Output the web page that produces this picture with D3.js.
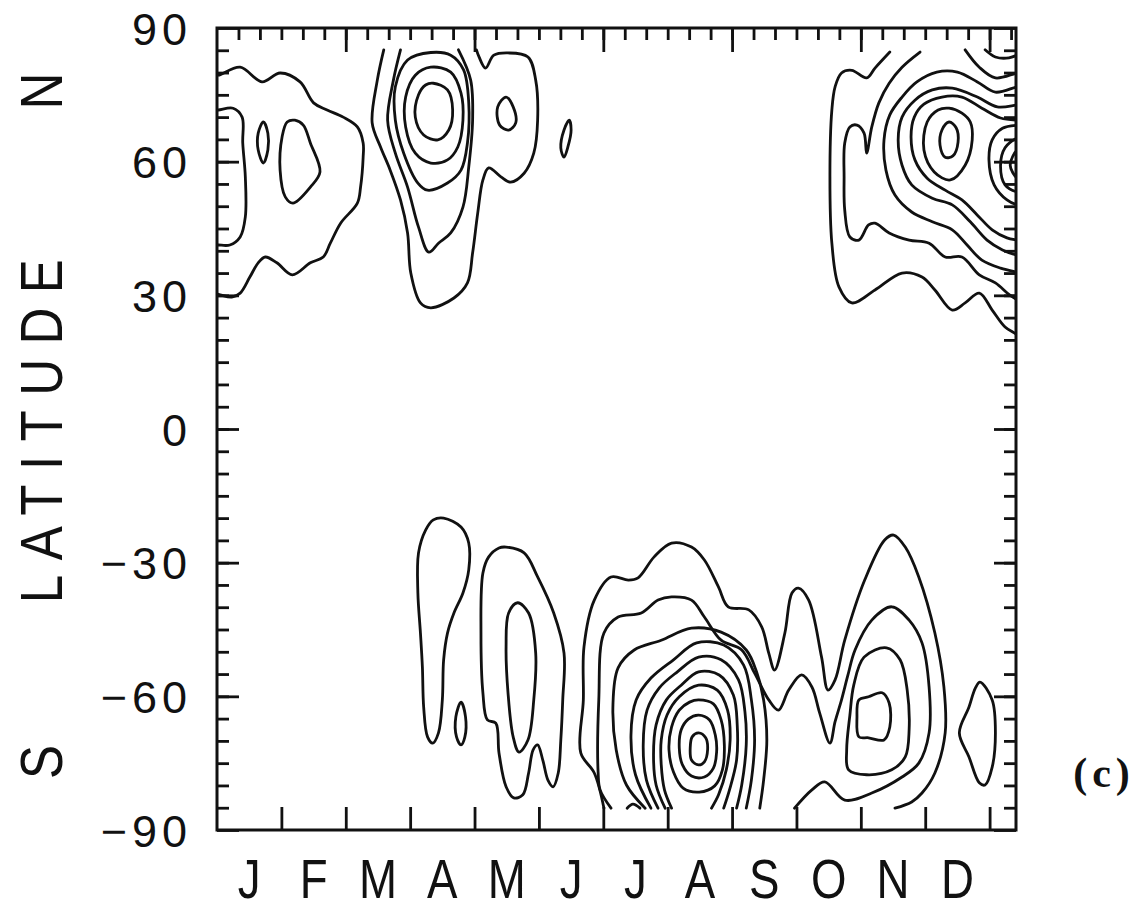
<!DOCTYPE html>
<html>
<head>
<meta charset="utf-8">
<script src="https://cdn.jsdelivr.net/npm/d3@7"></script>
<style>
  body { margin: 0; background: #fff; }
  text { font-family: "Liberation Sans", Arial, sans-serif; fill: #111; }
</style>
</head>
<body>
<svg id="chart" width="1143" height="911"></svg>
<script>
// axis labels
const monthLabels = ["J","F","M","A","M","J","J","A","S","O","N","D"];
const latTicks = [90, 60, 30, 0, -30, -60, -90];
const topMajor = [2, 4, 6, 8, 10, 12];

// contour lines, as [month, latitude] points
// (month 0 = start of January); ring = closed contour
const janNorth = [
  {ring: false, pts: [[-0.05,79.4],[0.02,79.4],[0.36,81.2],[0.70,77.9],[0.98,79.9],[1.29,77.9],[1.5,73.2],[1.71,71.6],[1.96,70.0],[2.18,67.8],[2.27,64.2],[2.27,61.0],[2.23,54.3],[2.18,50.7],[1.92,46.2],[1.76,41.7],[1.65,38.6],[1.45,37.3],[1.17,34.6],[0.93,37.3],[0.75,38.6],[0.64,37.3],[0.51,34.1],[0.36,30.5],[0.23,29.6],[0.05,30.1],[-0.05,30.5]]},
  {ring: false, pts: [[-0.05,71.6],[0.02,71.6],[0.25,72.0],[0.39,70.0],[0.4,64.2],[0.44,56.6],[0.44,47.6],[0.36,43.1],[0.2,41.3],[0.02,41.3],[-0.05,41.3]]},
  {ring: true, pts: [[0.72,68.9],[0.79,66.4],[0.79,62.6],[0.72,59.7],[0.64,62.6],[0.64,66.4]]},
  {ring: true, pts: [[1.21,69.3],[1.34,68.2],[1.45,64.2],[1.6,57.7],[1.45,54.3],[1.18,50.7],[1.06,52.1],[0.98,58.1],[1.01,65.5],[1.09,68.9]]}
];

const aprNorth = [
  {ring: false, pts: [[2.59,85.1],[2.49,78.3],[2.41,68.7],[2.54,63.3],[2.69,58.1],[2.85,51.4],[2.96,44.0],[3.01,35.0],[3.16,28.3],[3.32,27.2],[3.68,29.4],[3.89,32.8],[3.97,39.5],[4.05,48.5],[4.13,55.9],[4.22,58.6],[4.41,56.6],[4.56,55.4],[4.77,57.4],[4.92,61.9],[4.98,69.3],[4.95,78.3],[4.83,83.5],[4.52,84.4],[4.3,83.9],[4.17,81.0],[4.07,83.5],[4.03,85.1]]},
  {ring: false, pts: [[2.85,85.1],[2.74,78.3],[2.65,69.3],[2.77,61.9],[2.96,54.3],[3.13,45.3],[3.29,39.7],[3.44,41.7],[3.63,44.0],[3.82,49.8],[3.91,58.8],[3.97,69.3],[3.94,78.3],[3.75,85.1]]},
  {ring: true, pts: [[3.32,84.5],[3.63,83.9],[3.83,80.6],[3.91,73.2],[3.89,64.2],[3.79,58.1],[3.58,55.2],[3.27,53.6],[3.12,55.2],[2.9,61.9],[2.77,69.3],[2.77,76.8],[2.96,82.8]]},
  {ring: true, pts: [[3.32,81.2],[3.63,80.1],[3.79,75.4],[3.82,69.3],[3.74,63.3],[3.58,60.4],[3.32,59.7],[3.08,61.9],[2.93,67.8],[2.93,74.5],[3.08,79.4]]},
  {ring: true, pts: [[3.36,77.6],[3.58,76.1],[3.66,71.6],[3.6,67.1],[3.43,64.9],[3.21,66.0],[3.08,70.0],[3.13,75.0],[3.24,77.2]]},
  {ring: true, pts: [[4.49,74.5],[4.6,72.3],[4.64,68.7],[4.53,67.1],[4.39,68.2],[4.36,72.3]]},
  {ring: true, pts: [[5.47,69.3],[5.5,67.1],[5.45,63.3],[5.39,61.0],[5.34,63.1],[5.39,67.1]]}
];

const decNorth = [
  {ring: false, pts: [[10.45,84.6],[10.22,81.0],[10.09,78.8],[9.86,80.5],[9.7,79.9],[9.6,76.8],[9.55,71.6],[9.52,56.6],[9.55,41.7],[9.66,31.9],[9.86,28.3],[10.22,31.2],[10.64,35.0],[10.95,34.1],[11.15,31.2],[11.42,26.7],[11.62,28.3],[11.84,30.5],[12.04,26.7],[12.24,22.9],[12.43,21.1],[12.5,20.0]]},
  {ring: false, pts: [[10.92,84.6],[10.64,81.2],[10.44,77.6],[10.28,73.2],[10.17,67.8],[10.09,61.9],[10.05,66.4],[9.94,68.2],[9.83,67.8],[9.75,64.2],[9.74,56.6],[9.75,49.1],[9.83,43.1],[9.97,42.4],[10.12,45.8],[10.22,46.2],[10.44,44.0],[10.75,42.4],[11.06,41.7],[11.31,38.6],[11.57,38.6],[11.84,34.6],[12.09,32.8],[12.31,30.1],[12.43,29.0],[12.5,28.5]]},
  {ring: false, pts: [[12.5,76.8],[12.43,76.8],[12.09,75.6],[11.81,77.9],[11.5,80.1],[11.18,80.1],[10.87,77.9],[10.64,74.5],[10.45,70.5],[10.36,64.9],[10.39,58.1],[10.53,52.5],[10.79,48.7],[11.11,46.5],[11.42,44.7],[11.65,41.3],[11.88,37.9],[12.17,36.1],[12.43,35.2],[12.5,35.0]]},
  {ring: false, pts: [[12.5,72.7],[12.43,72.7],[12.12,72.3],[11.81,74.5],[11.42,76.5],[11.11,76.1],[10.84,73.8],[10.64,70.0],[10.58,64.9],[10.64,59.2],[10.79,54.8],[11.11,51.8],[11.42,50.3],[11.7,46.5],[11.96,42.4],[12.2,40.2],[12.43,39.0],[12.5,38.8]]},
  {ring: false, pts: [[12.5,69.3],[12.43,69.3],[12.17,69.8],[11.88,72.0],[11.57,74.5],[11.26,74.5],[10.98,72.9],[10.83,70.0],[10.78,65.5],[10.84,60.4],[11.03,56.3],[11.31,53.6],[11.57,51.4],[11.81,48.0],[12.04,44.7],[12.27,42.9],[12.43,42.4],[12.5,42.2]]},
  {ring: true, pts: [[11.37,72.0],[11.57,70.9],[11.7,68.9],[11.73,64.9],[11.62,59.2],[11.39,55.9],[11.14,57.7],[10.98,62.6],[11.03,68.9],[11.2,71.6]]},
  {ring: true, pts: [[11.37,68.9],[11.48,67.6],[11.51,64.4],[11.43,61.3],[11.31,61.0],[11.23,63.7],[11.26,67.1]]},
  {ring: false, pts: [[11.62,85.1],[11.84,81.2],[12.09,78.8],[12.43,79.9],[12.5,79.9]]},
  {ring: false, pts: [[11.93,85.1],[12.09,83.5],[12.3,83.3],[12.5,84.4]]},
  {ring: false, pts: [[12.5,68.2],[12.43,68.2],[12.2,67.5],[12.04,64.9],[11.99,60.4],[12.07,54.8],[12.27,51.4],[12.43,50.3],[12.5,50.3]]},
  {ring: false, pts: [[12.5,65.5],[12.43,65.3],[12.24,63.1],[12.17,59.2],[12.24,54.8],[12.43,53.2],[12.5,53.2]]},
  {ring: false, pts: [[12.5,62.6],[12.43,62.6],[12.32,59.2],[12.43,56.3],[12.5,56.3]]}
];

const aprSouth = [
  {ring: true, pts: [[3.52,-20.0],[3.79,-22.0],[3.91,-25.6],[3.91,-31.6],[3.82,-36.8],[3.68,-41.3],[3.58,-45.8],[3.52,-51.8],[3.5,-60.8],[3.44,-68.2],[3.35,-70.5],[3.27,-69.1],[3.21,-62.4],[3.19,-53.4],[3.16,-45.8],[3.12,-36.8],[3.13,-27.8],[3.24,-22.7],[3.36,-20.4]]},
  {ring: true, pts: [[3.79,-61.3],[3.86,-64.6],[3.85,-69.1],[3.79,-70.9],[3.72,-69.1],[3.71,-64.6]]}
];

const maySouth = [
  {ring: true, pts: [[4.49,-26.5],[4.77,-27.8],[4.98,-33.2],[5.23,-41.3],[5.39,-50.3],[5.37,-60.8],[5.34,-69.8],[5.3,-77.2],[5.22,-80.3],[5.14,-78.8],[5.06,-74.3],[4.98,-70.9],[4.91,-72.0],[4.84,-77.2],[4.75,-82.1],[4.61,-82.8],[4.49,-80.3],[4.38,-72.7],[4.33,-66.0],[4.2,-65.3],[4.13,-59.2],[4.1,-45.8],[4.13,-32.3],[4.22,-28.7],[4.38,-26.7]]},
  {ring: true, pts: [[4.67,-39.0],[4.84,-41.3],[4.95,-50.3],[4.92,-60.8],[4.83,-69.8],[4.69,-72.5],[4.6,-69.1],[4.52,-59.2],[4.49,-48.9],[4.53,-41.3]]}
];

const augSouth = [
  {ring: false, pts: [[6.01,-85.1],[5.86,-77.2],[5.65,-72.7],[5.69,-60.8],[5.7,-48.9],[5.86,-38.4],[6.12,-33.2],[6.39,-33.9],[6.54,-33.4],[6.79,-28.7],[7.06,-25.6],[7.37,-26.5],[7.57,-29.4],[7.79,-35.5],[7.94,-39.9],[8.26,-40.6],[8.46,-44.4],[8.57,-50.3],[8.66,-54.1],[8.82,-45.8],[8.93,-36.8],[9.03,-35.7],[9.19,-38.4],[9.39,-51.2],[9.49,-58.6],[9.6,-56.3],[9.75,-47.4],[10.06,-33.9],[10.37,-24.9],[10.51,-23.8],[10.69,-26.5],[10.9,-33.2],[11.15,-45.8],[11.29,-57.9],[11.31,-68.2],[11.15,-77.2],[10.95,-81.7],[10.79,-83.7],[10.53,-85.1]]},
  {ring: false, pts: [[6.12,-85.1],[5.95,-81.0],[5.92,-77.2],[5.93,-60.8],[6.01,-45.8],[6.23,-42.2],[6.59,-41.3],[6.85,-38.4],[7.06,-37.7],[7.37,-38.4],[7.57,-42.2],[7.83,-47.4],[8.15,-49.6],[8.35,-54.8],[8.57,-60.8],[8.72,-63.1],[8.88,-58.6],[9.08,-55.2],[9.24,-57.9],[9.36,-63.7],[9.52,-70.5],[9.6,-65.7],[9.7,-60.8],[9.8,-55.2],[9.91,-49.6],[10.17,-42.9],[10.48,-39.9],[10.75,-42.9],[10.95,-48.0],[11.06,-57.9],[11.06,-68.2],[10.9,-75.0],[10.64,-78.1],[10.17,-81.7],[9.75,-83.3],[9.44,-79.2],[9.24,-81.0],[8.97,-85.1]]},
  {ring: false, pts: [[6.65,-85.1],[6.36,-79.9],[6.2,-72.0],[6.15,-61.9],[6.23,-53.6],[6.48,-49.6],[6.9,-47.4],[7.37,-44.7],[7.83,-45.6],[8.22,-49.6],[8.38,-54.5],[8.49,-60.8],[8.54,-69.8],[8.49,-78.8],[8.43,-85.1]]},
  {ring: false, pts: [[6.74,-85.1],[6.5,-77.6],[6.43,-68.7],[6.51,-60.8],[6.74,-55.9],[7.09,-51.8],[7.45,-48.0],[7.87,-48.5],[8.18,-53.0],[8.3,-60.8],[8.35,-69.8],[8.3,-78.8],[8.22,-85.1]]},
  {ring: false, pts: [[6.85,-85.1],[6.67,-78.8],[6.62,-70.9],[6.68,-63.1],[6.87,-58.1],[7.15,-54.5],[7.48,-51.2],[7.83,-51.8],[8.1,-56.3],[8.2,-63.5],[8.22,-70.9],[8.15,-79.9],[8.07,-85.1]]},
  {ring: false, pts: [[6.96,-85.1],[6.82,-79.9],[6.78,-73.2],[6.82,-66.4],[6.98,-60.8],[7.21,-57.5],[7.48,-54.5],[7.8,-55.2],[8.02,-59.7],[8.08,-66.4],[8.07,-74.3],[7.96,-81.0],[7.87,-85.1]]},
  {ring: false, pts: [[7.06,-85.1],[6.95,-81.0],[6.9,-75.4],[6.9,-69.8],[6.99,-64.2],[7.18,-60.1],[7.48,-57.5],[7.77,-58.6],[7.93,-63.1],[7.97,-69.8],[7.91,-76.5],[7.79,-82.1],[7.68,-85.1]]},
  {ring: true, pts: [[7.48,-60.8],[7.71,-61.7],[7.83,-65.3],[7.88,-70.9],[7.85,-76.5],[7.73,-80.1],[7.49,-81.5],[7.24,-80.6],[7.09,-77.0],[7.02,-72.0],[7.06,-66.9],[7.18,-63.1],[7.34,-61.3]]},
  {ring: true, pts: [[7.48,-64.2],[7.65,-65.3],[7.74,-68.7],[7.76,-72.5],[7.71,-76.1],[7.57,-78.1],[7.37,-77.9],[7.23,-75.4],[7.18,-71.6],[7.21,-67.5],[7.32,-65.1]]},
  {ring: true, pts: [[7.48,-68.2],[7.59,-69.3],[7.62,-72.0],[7.57,-74.7],[7.48,-75.4],[7.37,-74.3],[7.35,-71.6],[7.38,-69.1]]},
  {ring: false, pts: [[6.37,-85.1],[6.46,-84.2],[6.57,-85.1]]}
];

const novSouth = [
  {ring: true, pts: [[10.4,-49.1],[10.61,-51.8],[10.72,-58.6],[10.75,-67.5],[10.69,-73.6],[10.48,-76.5],[10.09,-77.6],[9.81,-76.5],[9.78,-72.0],[9.83,-64.2],[9.89,-57.5],[10.05,-51.2]]},
  {ring: true, pts: [[9.97,-60.8],[10.12,-60.1],[10.33,-59.2],[10.44,-61.5],[10.45,-66.9],[10.36,-69.8],[10.12,-69.3],[9.97,-69.1],[9.94,-64.6]]}
];

const decSouth = [
  {ring: true, pts: [[11.85,-56.8],[12.04,-60.8],[12.09,-68.2],[12.04,-75.9],[11.93,-79.9],[11.84,-79.4],[11.68,-73.6],[11.53,-68.2],[11.68,-62.4],[11.78,-58.1]]}
];

const plotLeft = 217, plotRight = 1016, plotTop = 28, plotBottom = 830;

const svg = d3.select("#chart");
const x = d3.scaleLinear().domain([0, 12.41]).range([plotLeft, plotRight]);
const y = d3.scaleLinear().domain([-90, 90]).range([plotBottom, plotTop]);

svg.append("defs").append("clipPath").attr("id", "plot")
  .append("rect").attr("x", plotLeft).attr("y", plotTop)
  .attr("width", plotRight - plotLeft).attr("height", plotBottom - plotTop);

const openLine = d3.line().x(d => x(d[0])).y(d => y(d[1])).curve(d3.curveCatmullRom.alpha(0.5));
const ringLine = d3.line().x(d => x(d[0])).y(d => y(d[1])).curve(d3.curveCatmullRomClosed.alpha(0.5));

const allContours = [].concat(janNorth, aprNorth, decNorth, aprSouth, maySouth, augSouth, novSouth, decSouth);

svg.append("g").attr("clip-path", "url(#plot)")
  .selectAll("path")
  .data(allContours)
  .join("path")
  .attr("d", d => d.ring ? ringLine(d.pts) : openLine(d.pts))
  .attr("fill", "none")
  .attr("stroke", "#111")
  .attr("stroke-width", 2.8)
  .attr("stroke-linejoin", "round")
  .attr("stroke-linecap", "round");

// ticks
function styleAxis(g) {
  g.select(".domain").remove();
  g.selectAll("line").attr("stroke", "#111").attr("stroke-width", 2.8);
}
const minorLat = d3.range(-85, 90, 5);
const thirds = d3.range(1, 38).map(k => k / 3).filter(v => v < 12.41);

svg.append("g").attr("transform", `translate(${plotLeft},0)`)
  .call(d3.axisRight(y).tickValues(minorLat).tickSize(12).tickFormat(""))
  .call(styleAxis);
svg.append("g").attr("transform", `translate(${plotLeft},0)`)
  .call(d3.axisRight(y).tickValues(latTicks).tickSize(22).tickFormat(""))
  .call(styleAxis);
svg.append("g").attr("transform", `translate(${plotRight},0)`)
  .call(d3.axisLeft(y).tickValues(minorLat).tickSize(12).tickFormat(""))
  .call(styleAxis);
svg.append("g").attr("transform", `translate(${plotRight},0)`)
  .call(d3.axisLeft(y).tickValues(latTicks).tickSize(22).tickFormat(""))
  .call(styleAxis);
svg.append("g").attr("transform", `translate(0,${plotTop})`)
  .call(d3.axisBottom(x).tickValues(thirds).tickSize(12).tickFormat(""))
  .call(styleAxis);
svg.append("g").attr("transform", `translate(0,${plotTop})`)
  .call(d3.axisBottom(x).tickValues(topMajor).tickSize(24).tickFormat(""))
  .call(styleAxis);
svg.append("g").attr("transform", `translate(0,${plotBottom})`)
  .call(d3.axisTop(x).tickValues(d3.range(1, 13)).tickSize(23).tickFormat(""))
  .call(styleAxis);

// latitude labels
const yLab = svg.append("g").attr("transform", `translate(${plotLeft},0)`)
  .call(d3.axisLeft(y).tickValues(latTicks).tickSize(0).tickPadding(25).tickFormat(d3.format("d")));
yLab.select(".domain").remove();
yLab.selectAll("text")
  .attr("font-family", "Liberation Sans, Arial, sans-serif")
  .attr("font-size", 45)
  .attr("letter-spacing", 5)
  .attr("fill", "#111")
  .attr("dy", "0.36em");

// month labels
svg.append("g").selectAll("text")
  .data(monthLabels)
  .join("text")
  .attr("transform", (d, i) => `translate(${x(i + 0.5)},898) scale(0.83,1)`)
  .attr("text-anchor", "middle")
  .attr("font-size", 55)
  .text(d => d);

// frame
svg.append("rect")
  .attr("x", plotLeft).attr("y", plotTop)
  .attr("width", plotRight - plotLeft).attr("height", plotBottom - plotTop)
  .attr("fill", "none").attr("stroke", "#111").attr("stroke-width", 3);

// axis title
const title = [["LATITUDE", 424], ["N", 91], ["S", 762]];
svg.append("g").selectAll("text")
  .data(title)
  .join("text")
  .attr("transform", d => `translate(40,${d[1]}) rotate(-90) scale(0.85,1)`)
  .attr("text-anchor", "middle")
  .attr("dy", "0.36em")
  .attr("font-size", 60)
  .attr("letter-spacing", d => d[0].length > 1 ? 17 : 0)
  .text(d => d[0]);

svg.append("text")
  .attr("x", 1104).attr("y", 787)
  .attr("text-anchor", "middle")
  .style("font-family", "'Liberation Serif', 'Times New Roman', serif")
  .attr("font-weight", "bold")
  .attr("font-size", 42)
  .attr("letter-spacing", 5)
  .text("(c)");
</script>
</body>
</html>
